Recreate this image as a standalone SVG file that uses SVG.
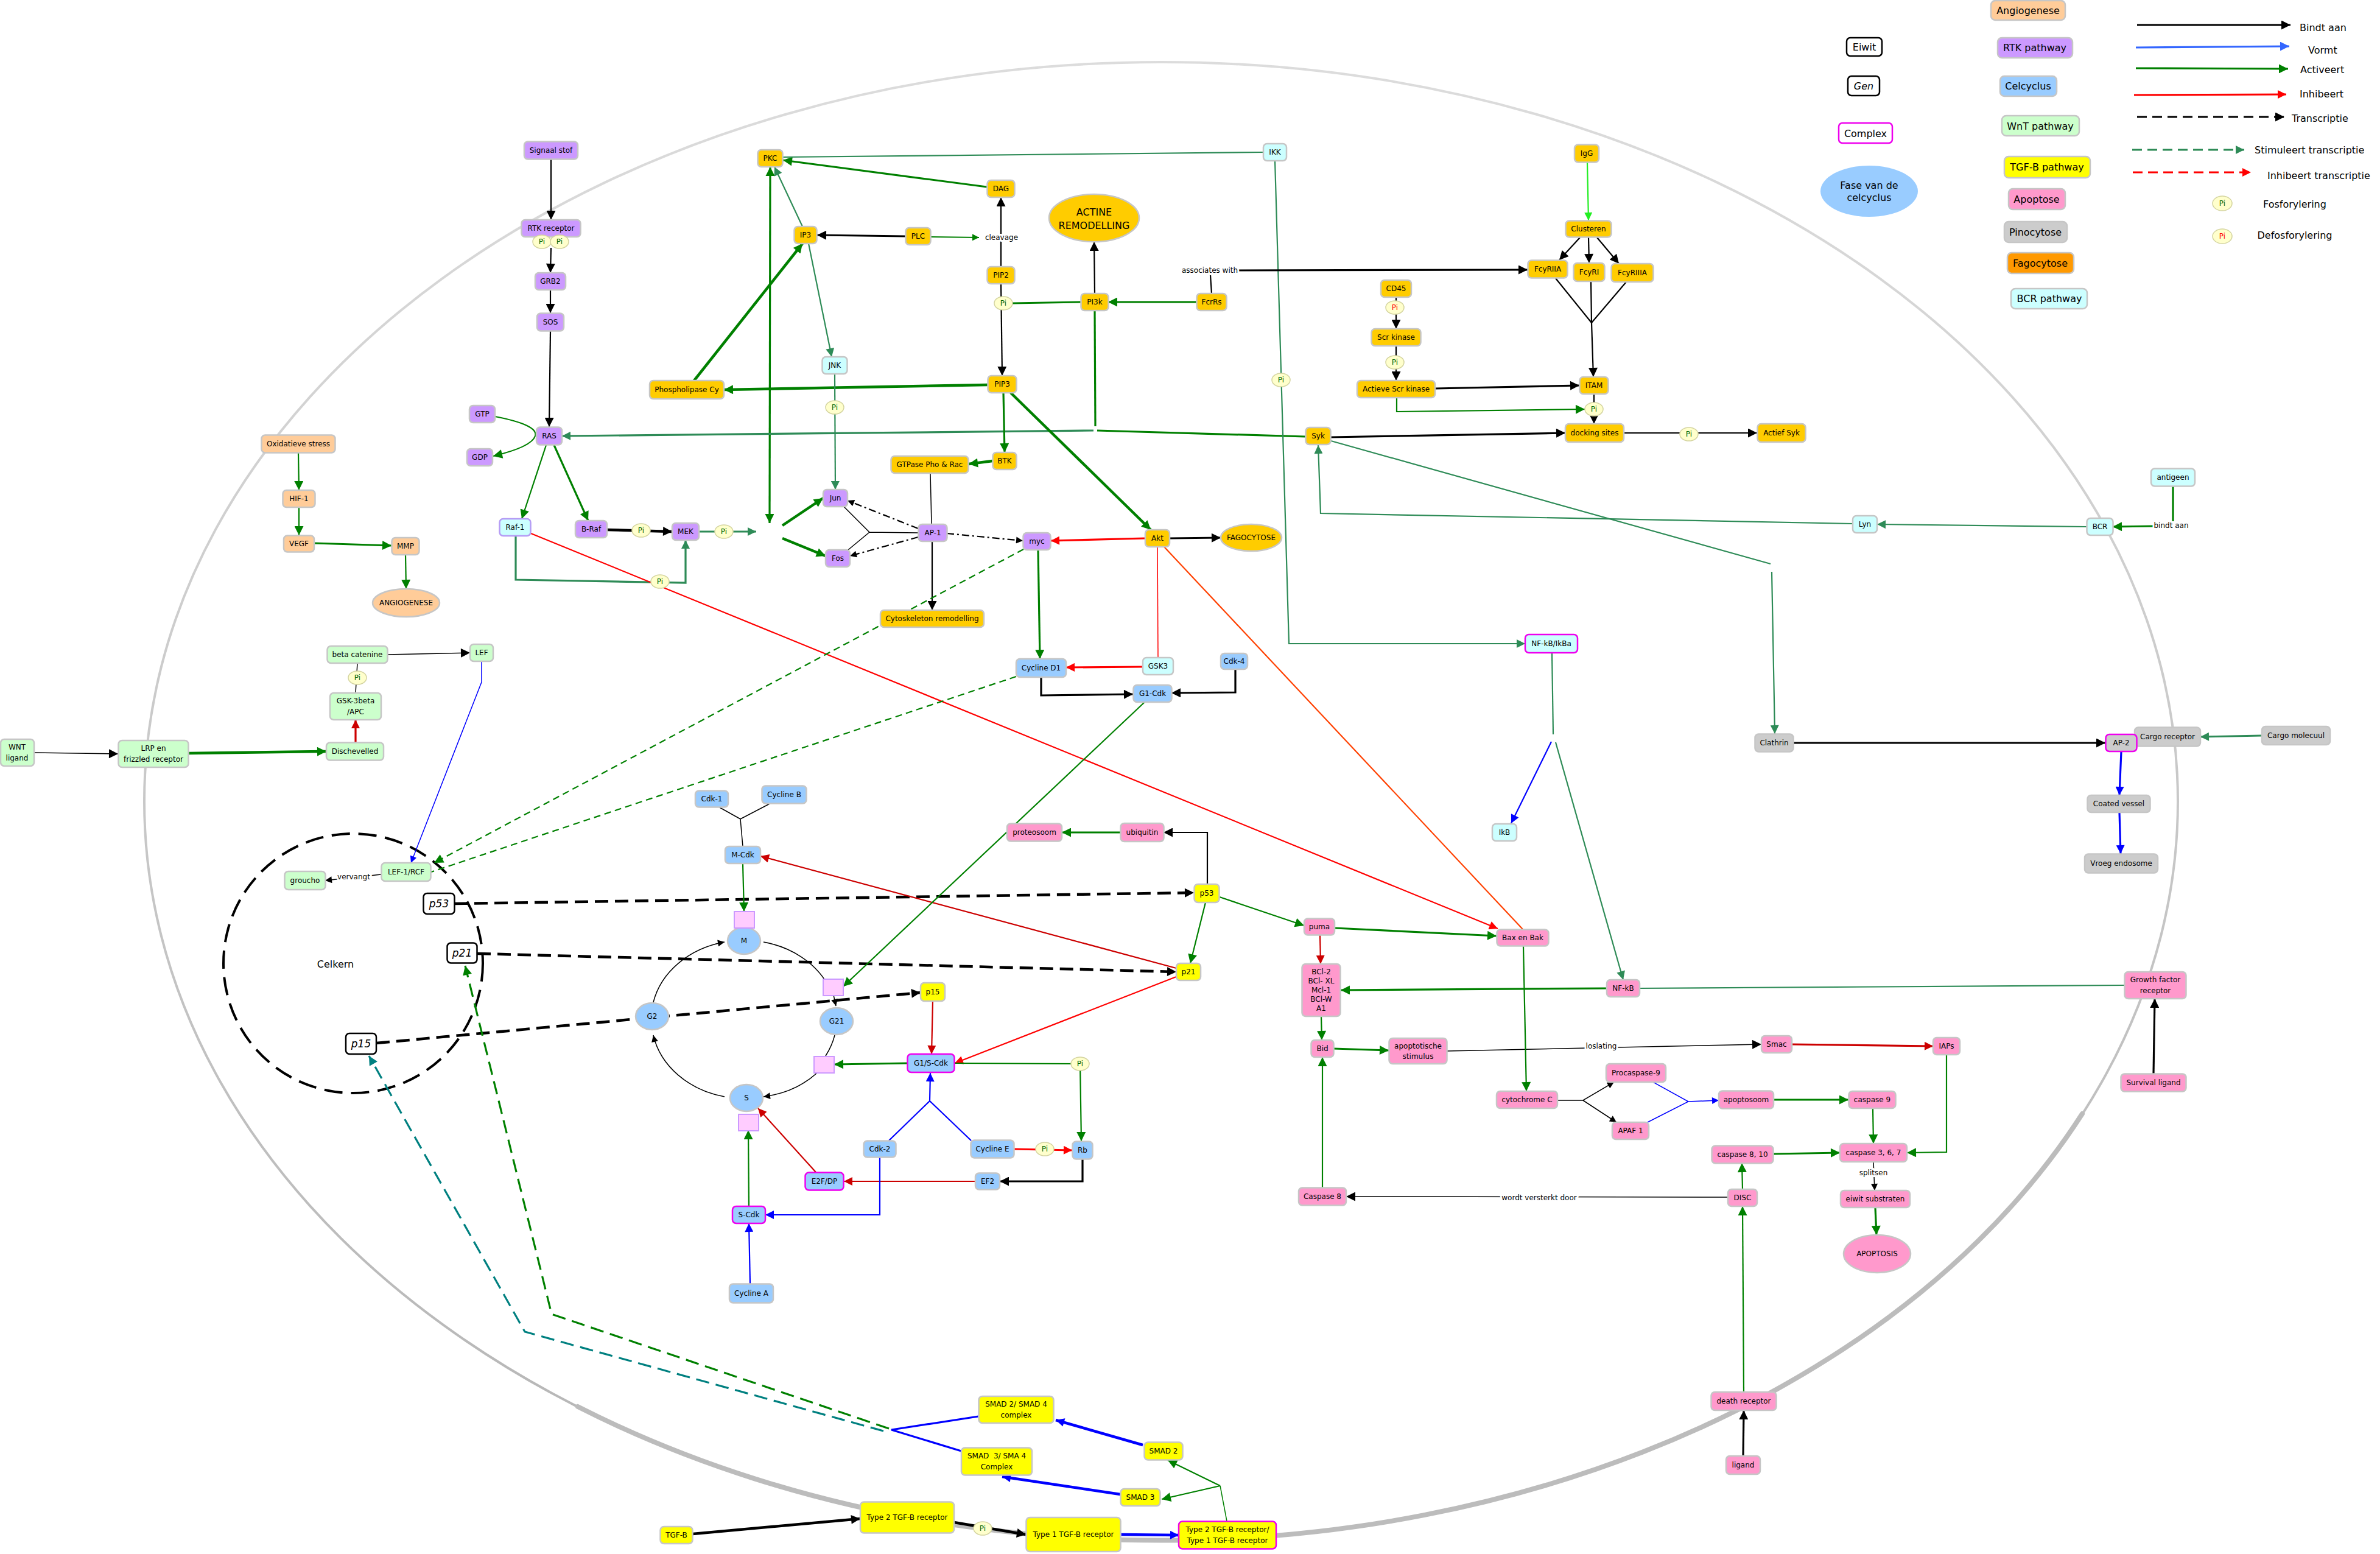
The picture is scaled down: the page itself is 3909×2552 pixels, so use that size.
<svg xmlns="http://www.w3.org/2000/svg" width="3909" height="2552" viewBox="0 0 3909 2552">
<style>
text{font-family:"DejaVu Sans",Verdana,sans-serif;font-size:12px;text-anchor:middle;dominant-baseline:central;fill:#000}
.n rect,.n ellipse{stroke:#c6c6c6;stroke-width:2.5}
.rtk rect{fill:#cc99ff}
.bcr rect{fill:#ccffff}
.fag rect,.fag ellipse{fill:#ffcc00}
.ang rect,.ang ellipse{fill:#ffcc99}
.wnt rect{fill:#ccffcc}
.cc rect,.cc ellipse{fill:#99ccff}
.tgf rect{fill:#ffff00}
.apo rect,.apo ellipse{fill:#ff99cc}
.pin rect{fill:#cccccc}
.gen rect{fill:#fff;stroke:#000;stroke-width:2.5}
.gen text{font-style:italic;font-size:17px}
.cx rect{stroke:#ee00ee;stroke-width:2.5}
.sq rect{fill:#ffccff;stroke:#cc99ff;stroke-width:2}
.pi ellipse{fill:#ffffcc;stroke:#d4d4a0;stroke-width:1.5}
.pi text{fill:#006600;font-size:12px}
.pr text{fill:#ff0000}
.lbl{stroke:#fff;stroke-width:6;paint-order:stroke;stroke-linejoin:round}
.big text{font-size:16px}
.lg{font-size:16px}
.ls{font-size:16px;text-anchor:start}
#connectors path,#legend path,#membrane path{fill:none}
.k{stroke:#000}.g{stroke:#008000}.t{stroke:#2e8b57}.r{stroke:#ff0000}.dr{stroke:#cc0000}.b{stroke:#0000ff}.l{stroke:#22ee22}.o{stroke:#ff4000}.tl{stroke:#008080}.bl{stroke:#3366ff}
.w1{stroke-width:1.5}.w2{stroke-width:2.2}.w3{stroke-width:3.2}.w4{stroke-width:4.5}
.dsh{stroke-dasharray:22,11}.dsg{stroke-dasharray:11,7}.dd{stroke-dasharray:12,5,3,5}
</style>
<defs>
<linearGradient id="mem" x1="0" y1="100" x2="0" y2="2530" gradientUnits="userSpaceOnUse"><stop offset="0" stop-color="#dcdcdc"/><stop offset="1" stop-color="#b4b4b4"/></linearGradient>
<marker id="k" viewBox="0 0 10 10" refX="10" refY="5" markerWidth="17" markerHeight="15" markerUnits="userSpaceOnUse" orient="auto-start-reverse"><path d="M0,0L10,5L0,10z" fill="#000"/></marker>
<marker id="g" viewBox="0 0 10 10" refX="10" refY="5" markerWidth="17" markerHeight="15" markerUnits="userSpaceOnUse" orient="auto-start-reverse"><path d="M0,0L10,5L0,10z" fill="#008000"/></marker>
<marker id="t" viewBox="0 0 10 10" refX="10" refY="5" markerWidth="16" markerHeight="14" markerUnits="userSpaceOnUse" orient="auto-start-reverse"><path d="M0,0L10,5L0,10z" fill="#2e8b57"/></marker>
<marker id="r" viewBox="0 0 10 10" refX="10" refY="5" markerWidth="16" markerHeight="14" markerUnits="userSpaceOnUse" orient="auto-start-reverse"><path d="M0,0L10,5L0,10z" fill="#ff0000"/></marker>
<marker id="dr" viewBox="0 0 10 10" refX="10" refY="5" markerWidth="16" markerHeight="14" markerUnits="userSpaceOnUse" orient="auto-start-reverse"><path d="M0,0L10,5L0,10z" fill="#cc0000"/></marker>
<marker id="b" viewBox="0 0 10 10" refX="10" refY="5" markerWidth="16" markerHeight="14" markerUnits="userSpaceOnUse" orient="auto-start-reverse"><path d="M0,0L10,5L0,10z" fill="#0000ff"/></marker>
<marker id="l" viewBox="0 0 10 10" refX="10" refY="5" markerWidth="15" markerHeight="13" markerUnits="userSpaceOnUse" orient="auto-start-reverse"><path d="M0,0L10,5L0,10z" fill="#22ee22"/></marker>
<marker id="tl" viewBox="0 0 10 10" refX="10" refY="5" markerWidth="17" markerHeight="15" markerUnits="userSpaceOnUse" orient="auto-start-reverse"><path d="M0,0L10,5L0,10z" fill="#008080"/></marker>
<marker id="bl" viewBox="0 0 10 10" refX="10" refY="5" markerWidth="17" markerHeight="15" markerUnits="userSpaceOnUse" orient="auto-start-reverse"><path d="M0,0L10,5L0,10z" fill="#3366ff"/></marker>
<marker id="ks" viewBox="0 0 10 10" refX="10" refY="5" markerWidth="13" markerHeight="11" markerUnits="userSpaceOnUse" orient="auto-start-reverse"><path d="M0,0L10,5L0,10z" fill="#000"/></marker>
<marker id="gs" viewBox="0 0 10 10" refX="10" refY="5" markerWidth="13" markerHeight="11" markerUnits="userSpaceOnUse" orient="auto-start-reverse"><path d="M0,0L10,5L0,10z" fill="#008000"/></marker>
<marker id="bs" viewBox="0 0 10 10" refX="10" refY="5" markerWidth="13" markerHeight="11" markerUnits="userSpaceOnUse" orient="auto-start-reverse"><path d="M0,0L10,5L0,10z" fill="#0000ff"/></marker>
</defs>
<rect width="3909" height="2552" fill="#fff"/>

<g id="membrane"><ellipse cx="1907" cy="1316" rx="1670" ry="1214" fill="none" stroke="url(#mem)" stroke-width="4"/><path d="M3420,1829A1670,1214 0 0 1 949,2310" stroke="#bcbcbc" stroke-width="8" stroke-linecap="round"/></g>
<g id="celkern"><ellipse cx="580" cy="1582" rx="213" ry="213" fill="none" stroke="#000" stroke-width="4" stroke-dasharray="30,14"/><text x="551" y="1583" style="font-size:16px">Celkern</text></g>

<g id="connectors">
<path class="g w2" d="M490,744L491,805" marker-end="url(#g)"/>
<path class="g w2" d="M491,833L491,879" marker-end="url(#g)"/>
<path class="g w3" d="M516,892L643,896" marker-end="url(#g)"/>
<path class="g w2" d="M666,911L667,967" marker-end="url(#g)"/>
<path class="k w2" d="M905,262L905,361" marker-end="url(#k)"/>
<path class="k w2" d="M905,407L904,448" marker-end="url(#k)"/>
<path class="k w2" d="M904,476L904,514" marker-end="url(#k)"/>
<path class="k w2" d="M904,544L902,701" marker-end="url(#k)"/>
<path class="g w2" d="M813,684Q885,698 879,716Q873,734 810,749" marker-end="url(#g)"/>
<path class="g w2" d="M897,731L857,852" marker-end="url(#g)"/>
<path class="g w3" d="M910,731L966,855" marker-end="url(#g)"/>
<path class="k w4" d="M997,870L1104,873" marker-end="url(#k)"/>
<path class="t w3" d="M1148,873L1242,873" marker-end="url(#t)"/>
<path class="t w3" d="M847,880L847,952L1126,957L1126,887" marker-end="url(#t)"/>
<path class="g w4" d="M1285,863L1352,818" marker-end="url(#g)"/>
<path class="g w4" d="M1285,884L1356,913" marker-end="url(#g)"/>
<path class="g w3" d="M1265,274L1264,859" marker-start="url(#g)" marker-end="url(#g)"/>
<path class="t w2" d="M1318,372L1272,274" marker-end="url(#t)"/>
<path class="g w3" d="M1621,307L1286,263" marker-end="url(#g)"/>
<path class="t w2" d="M2075,250L1286,258"/>
<path class="k w3" d="M1487,388L1342,386" marker-end="url(#k)"/>
<path class="g w2" d="M1528,389L1608,390" marker-end="url(#gs)"/>
<path class="k w2" d="M1644,438L1644,324" marker-end="url(#k)"/>
<path class="k w2" d="M1644,466L1646,617" marker-end="url(#k)"/>
<path class="g w3" d="M1775,496L1663,498"/>
<path class="g w3" d="M1965,496L1820,496" marker-end="url(#g)"/>
<path class="k w2" d="M1798,482L1797,397" marker-end="url(#k)"/>
<path class="g w3" d="M1798,510L1799,700"/>
<path class="g w3" d="M2144,717L1802,707"/>
<path class="t w3" d="M1796,707L923,716" marker-end="url(#t)"/>
<path class="g w4" d="M1622,632L1189,640" marker-end="url(#g)"/>
<path class="g w4" d="M1140,625L1318,400" marker-end="url(#g)"/>
<path class="t w2" d="M1328,400L1366,586" marker-end="url(#t)"/>
<path class="t w2" d="M1371,614L1372,804" marker-end="url(#t)"/>
<path class="g w3" d="M1648,645L1650,743" marker-end="url(#g)"/>
<path class="g w4" d="M1630,757L1591,762" marker-end="url(#g)"/>
<path class="g w4" d="M1660,645L1890,870" marker-end="url(#g)"/>
<path class="k w1" d="M1528,777L1530,861"/>
<path class="k w2" d="M1531,889L1531,1002" marker-end="url(#k)"/>
<path class="k w2 dd" d="M1508,868L1392,822" marker-end="url(#ks)"/>
<path class="k w2 dd" d="M1508,882L1396,913" marker-end="url(#ks)"/>
<path class="k w2 dd" d="M1555,876L1680,888" marker-end="url(#ks)"/>
<path class="k w1" d="M1386,832L1428,874L1508,875M1393,903L1428,874"/>
<path class="r w3" d="M1881,884L1726,888" marker-end="url(#r)"/>
<path class="k w3" d="M1921,884L2005,883" marker-end="url(#k)"/>
<path class="g w3" d="M1705,903L1708,1082" marker-end="url(#g)"/>
<path class="r w1" d="M1901,898L1902,1080"/>
<path class="r w3" d="M1877,1095L1751,1096" marker-end="url(#r)"/>
<path class="k w3" d="M1710,1112L1710,1142L1861,1140" marker-end="url(#k)"/>
<path class="k w3" d="M2029,1099L2029,1137L1924,1138" marker-end="url(#k)"/>
<path class="o w2" d="M1912,898L2501,1526"/>
<path class="r w2" d="M872,876L2460,1525" marker-end="url(#r)"/>
<path class="t w2" d="M2094,264L2117,1057L2505,1057" marker-end="url(#t)"/>
<path class="t w2" d="M2549,1072L2551,1206"/>
<path class="b w2" d="M2548,1218L2482,1352" marker-end="url(#b)"/>
<path class="t w2" d="M2555,1219L2666,1609" marker-end="url(#t)"/>
<path class="g w3" d="M2639,1623L2202,1626" marker-end="url(#g)"/>
<path class="t w2" d="M3489,1618L2693,1623"/>
<path class="k w3" d="M3537,1763L3539,1640" marker-end="url(#k)"/>
<path class="t w2" d="M3043,860L2169,843L2165,731" marker-end="url(#t)"/>
<path class="t w2" d="M3427,865L3083,861" marker-end="url(#t)"/>
<path class="g w3" d="M3569,799L3569,856"/>
<path class="g w3" d="M3537,864L3470,865" marker-end="url(#g)"/>
<path class="t w2" d="M2186,724L2908,926M2910,939L2915,1205" marker-end="url(#t)"/>
<path class="k w3" d="M2946,1220L3458,1220" marker-end="url(#k)"/>
<path class="t w3" d="M3715,1208L3614,1210" marker-end="url(#t)"/>
<path class="b w3" d="M3484,1234L3481,1306" marker-end="url(#b)"/>
<path class="b w3" d="M3481,1334L3483,1402" marker-end="url(#b)"/>
<path class="l w2" d="M2607,267L2609,362" marker-end="url(#l)"/>
<path class="k w2" d="M2595,390L2561,427" marker-end="url(#k)"/>
<path class="k w2" d="M2609,390L2610,432" marker-end="url(#k)"/>
<path class="k w2" d="M2623,390L2659,433" marker-end="url(#k)"/>
<path class="k w2" d="M2555,457L2614,530M2613,462L2614,530M2671,463L2614,530"/>
<path class="k w2" d="M2614,530L2617,619" marker-end="url(#k)"/>
<path class="k w2" d="M1990,482L1988,452"/>
<path class="k w3" d="M2033,444L2509,443" marker-end="url(#k)"/>
<path class="k w2" d="M2293,488L2293,540" marker-end="url(#k)"/>
<path class="k w2" d="M2293,568L2293,625" marker-end="url(#k)"/>
<path class="k w3" d="M2357,638L2594,633" marker-end="url(#k)"/>
<path class="g w2" d="M2294,653L2294,676L2603,672" marker-end="url(#g)"/>
<path class="k w2" d="M2618,647L2618,696" marker-end="url(#k)"/>
<path class="k w3" d="M2186,718L2571,711" marker-end="url(#k)"/>
<path class="k w2" d="M2667,711L2886,711" marker-end="url(#k)"/>
<path class="k w1" d="M56,1236L194,1238" marker-end="url(#k)"/>
<path class="g w4" d="M309,1237L536,1234" marker-end="url(#g)"/>
<path class="dr w3" d="M584,1219L584,1182" marker-end="url(#dr)"/>
<path class="k w1" d="M584,1138L587,1089"/>
<path class="k w1" d="M636,1075L772,1072" marker-end="url(#k)"/>
<path class="b w1" d="M791,1086L791,1120L675,1417" marker-end="url(#bs)"/>
<path class="k w1" d="M626,1436L534,1446" marker-end="url(#ks)"/>
<path class="g w2 dsg" d="M1681,902L713,1417" marker-end="url(#g)"/>
<path class="g w2 dsg" d="M1669,1111L708,1432"/>
<path class="k w4 dsh" d="M746,1484L1961,1466" marker-end="url(#k)"/>
<path class="k w4 dsh" d="M784,1566L1932,1596" marker-end="url(#k)"/>
<path class="k w4 dsh" d="M618,1713L1512,1630" marker-end="url(#k)"/>
<path class="g w3 dsh" d="M1460,2346L906,2158L764,1586" marker-end="url(#g)"/>
<path class="tl w3 dsh" d="M1451,2350L862,2187L606,1734" marker-end="url(#tl)"/>
<path class="k w1" d="M1182,1326L1216,1345M1264,1320L1216,1345L1220,1390"/>
<path class="g w2" d="M1220,1418L1222,1497" marker-end="url(#g)"/>
<path class="k w1" d="M1254,1547A152,129 0 0 1 1359,1616"/>
<path class="k w1" d="M1369,1634L1373,1652" marker-end="url(#ks)"/>
<path class="k w1" d="M1371,1700A152,129 0 0 1 1356,1734"/>
<path class="k w1" d="M1342,1762A152,129 0 0 1 1254,1801" marker-end="url(#ks)"/>
<path class="k w1" d="M1190,1801A152,129 0 0 1 1073,1700" marker-end="url(#ks)"/>
<path class="k w1" d="M1073,1646A152,129 0 0 1 1190,1547" marker-end="url(#ks)"/>
<path class="g w3" d="M1490,1746L1370,1748" marker-end="url(#g)"/>
<path class="dr w2" d="M1532,1644L1530,1731" marker-end="url(#dr)"/>
<path class="r w2" d="M1932,1604L1568,1746" marker-end="url(#r)"/>
<path class="dr w2" d="M1932,1590L1249,1406" marker-end="url(#dr)"/>
<path class="g w2" d="M1980,1482L1955,1582" marker-end="url(#g)"/>
<path class="k w2" d="M1983,1452L1983,1367L1911,1367" marker-end="url(#k)"/>
<path class="g w3" d="M1840,1367L1744,1367" marker-end="url(#g)"/>
<path class="g w2" d="M2003,1473L2142,1520" marker-end="url(#g)"/>
<path class="g w2" d="M1568,1746L1774,1747L1776,1874" marker-end="url(#g)"/>
<path class="r w3" d="M1666,1887L1761,1889" marker-end="url(#r)"/>
<path class="k w3" d="M1778,1904L1778,1940L1642,1940" marker-end="url(#k)"/>
<path class="dr w2" d="M1602,1940L1386,1940" marker-end="url(#dr)"/>
<path class="dr w2" d="M1340,1925L1245,1820" marker-end="url(#dr)"/>
<path class="b w2" d="M1445,1900L1445,1995L1257,1995" marker-end="url(#b)"/>
<path class="b w2" d="M1460,1873L1527,1808L1595,1873M1527,1808L1528,1762" marker-end="url(#b)"/>
<path class="b w2" d="M1232,2108L1230,2009" marker-end="url(#b)"/>
<path class="g w2" d="M1230,1981L1229,1856" marker-end="url(#g)"/>
<path class="g w2" d="M1880,1153L1385,1620" marker-end="url(#g)"/>
<path class="g w3" d="M2192,1524L2458,1537" marker-end="url(#g)"/>
<path class="dr w2" d="M2168,1536L2169,1583" marker-end="url(#dr)"/>
<path class="g w2" d="M2170,1669L2171,1708" marker-end="url(#g)"/>
<path class="g w3" d="M2190,1722L2281,1725" marker-end="url(#g)"/>
<path class="k w1" d="M2377,1726L2893,1715" marker-end="url(#k)"/>
<path class="dr w3" d="M2943,1715L3175,1718" marker-end="url(#dr)"/>
<path class="g w2" d="M3197,1732L3197,1892L3132,1893" marker-end="url(#g)"/>
<path class="g w2" d="M2502,1554L2507,1792" marker-end="url(#g)"/>
<path class="k w1" d="M2558,1807L2600,1807L2651,1777" marker-end="url(#ks)"/>
<path class="k w1" d="M2600,1807L2655,1843" marker-end="url(#ks)"/>
<path class="b w1" d="M2715,1777L2773,1809L2706,1843M2773,1809L2823,1807" marker-end="url(#bs)"/>
<path class="g w3" d="M2913,1806L3036,1806" marker-end="url(#g)"/>
<path class="g w2" d="M3076,1820L3077,1878" marker-end="url(#g)"/>
<path class="g w3" d="M2912,1895L3022,1893" marker-end="url(#g)"/>
<path class="k w1" d="M3077,1908L3079,1955" marker-end="url(#ks)"/>
<path class="g w3" d="M3080,1983L3082,2028" marker-end="url(#g)"/>
<path class="g w2" d="M2862,1953L2861,1910" marker-end="url(#g)"/>
<path class="k w1" d="M2838,1966L2211,1965" marker-end="url(#k)"/>
<path class="g w2" d="M2172,1950L2172,1736" marker-end="url(#g)"/>
<path class="g w2" d="M2864,2286L2862,1981" marker-end="url(#g)"/>
<path class="k w3" d="M2863,2391L2864,2316" marker-end="url(#k)"/>
<path class="k w4" d="M1138,2519L1413,2494" marker-end="url(#k)"/>
<path class="k w4" d="M1567,2500L1685,2520" marker-end="url(#k)"/>
<path class="b w4" d="M1841,2520L1936,2521" marker-end="url(#b)"/>
<path class="g w1" d="M2015,2498L2004,2440"/>
<path class="g w2" d="M2004,2440L1918,2398" marker-end="url(#g)"/>
<path class="g w2" d="M2004,2440L1908,2462" marker-end="url(#g)"/>
<path class="b w4" d="M1877,2373L1734,2332" marker-end="url(#b)"/>
<path class="b w4" d="M1840,2454L1646,2425" marker-end="url(#b)"/>
<path class="b w3" d="M1607,2326L1464,2348L1579,2383"/>
</g>

<g id="edge-labels">
<text class="lbl" x="1645" y="390">cleavage</text>
<text class="lbl" x="1987" y="444">associates with</text>
<text class="lbl" x="3566" y="863">bindt aan</text>
<text class="lbl" x="581" y="1440">vervangt</text>
<text class="lbl" x="2630" y="1718">loslating</text>
<text class="lbl" x="3077" y="1926">splitsen</text>
<text class="lbl" x="2528" y="1967">wordt versterkt door</text>
</g>

<g id="nodes">
<g id="n-signaal" class="n rtk"><rect x="861" y="232.5" width="88" height="29" rx="6"/><text x="905" y="247">Signaal stof</text></g>
<g id="n-rtkrec" class="n rtk"><rect x="856.5" y="361" width="97" height="28" rx="6"/><text x="905" y="375">RTK receptor</text></g>
<g id="n-grb2" class="n rtk"><rect x="879" y="448" width="50" height="28" rx="6"/><text x="904" y="462">GRB2</text></g>
<g id="n-sos" class="n rtk"><rect x="882" y="514.5" width="44" height="29" rx="6"/><text x="904" y="529">SOS</text></g>
<g id="n-gtp" class="n rtk"><rect x="771" y="666" width="42" height="28" rx="6"/><text x="792" y="680">GTP</text></g>
<g id="n-gdp" class="n rtk"><rect x="767" y="737" width="42" height="28" rx="6"/><text x="788" y="751">GDP</text></g>
<g id="n-ras" class="n rtk"><rect x="881" y="701.5" width="42" height="29" rx="6"/><text x="902" y="716">RAS</text></g>
<g id="n-braf" class="n rtk"><rect x="945" y="855" width="52" height="28" rx="6"/><text x="971" y="869">B-Raf</text></g>
<g id="n-mek" class="n rtk"><rect x="1104" y="859" width="44" height="28" rx="6"/><text x="1126" y="873">MEK</text></g>
<g id="n-jun" class="n rtk"><rect x="1352" y="804" width="40" height="28" rx="6"/><text x="1372" y="818">Jun</text></g>
<g id="n-fos" class="n rtk"><rect x="1356" y="903" width="40" height="28" rx="6"/><text x="1376" y="917">Fos</text></g>
<g id="n-ap1" class="n rtk"><rect x="1508.5" y="861" width="47" height="28" rx="6"/><text x="1532" y="875">AP-1</text></g>
<g id="n-myc" class="n rtk"><rect x="1680.5" y="875" width="45" height="28" rx="6"/><text x="1703" y="889">myc</text></g>

<g id="n-raf1" class="n bcr"><rect x="820.5" y="852" width="51" height="28" rx="6" style="stroke:#b59cf5"/><text x="846" y="866">Raf-1</text></g>
<g id="n-jnk" class="n bcr"><rect x="1350.5" y="586" width="41" height="28" rx="6"/><text x="1371" y="600">JNK</text></g>
<g id="n-ikk" class="n bcr"><rect x="2075" y="236" width="38" height="28" rx="6"/><text x="2094" y="250">IKK</text></g>
<g id="n-gsk3" class="n bcr"><rect x="1877" y="1080" width="50" height="28" rx="6"/><text x="1902" y="1094">GSK3</text></g>
<g id="n-nfkbikba" class="n bcr cx"><rect x="2505" y="1042" width="86" height="30" rx="6"/><text x="2548" y="1057">NF-kB/IkBa</text></g>
<g id="n-ikb" class="n bcr"><rect x="2451" y="1353" width="40" height="28" rx="6"/><text x="2471" y="1367">IkB</text></g>
<g id="n-lyn" class="n bcr"><rect x="3043" y="847" width="40" height="28" rx="6"/><text x="3063" y="861">Lyn</text></g>
<g id="n-bcr" class="n bcr"><rect x="3427.5" y="851" width="43" height="28" rx="6"/><text x="3449" y="865">BCR</text></g>
<g id="n-antigeen" class="n bcr"><rect x="3533" y="769.5" width="72" height="29" rx="6"/><text x="3569" y="784">antigeen</text></g>

<g id="n-pkc" class="n fag"><rect x="1244.5" y="246" width="41" height="28" rx="6"/><text x="1265" y="260">PKC</text></g>
<g id="n-dag" class="n fag"><rect x="1621.5" y="296" width="45" height="28" rx="6"/><text x="1644" y="310">DAG</text></g>
<g id="n-ip3" class="n fag"><rect x="1304.5" y="372" width="37" height="28" rx="6"/><text x="1323" y="386">IP3</text></g>
<g id="n-plc" class="n fag"><rect x="1487.5" y="374" width="41" height="28" rx="6"/><text x="1508" y="388">PLC</text></g>
<g id="n-pip2" class="n fag"><rect x="1621.5" y="438" width="45" height="28" rx="6"/><text x="1644" y="452">PIP2</text></g>
<g id="n-pi3k" class="n fag"><rect x="1775.5" y="482" width="45" height="28" rx="6"/><text x="1798" y="496">PI3k</text></g>
<g id="n-fcrrs" class="n fag"><rect x="1965.5" y="482" width="49" height="28" rx="6"/><text x="1990" y="496">FcrRs</text></g>
<g id="n-pip3" class="n fag"><rect x="1622.5" y="617" width="47" height="28" rx="6"/><text x="1646" y="631">PIP3</text></g>
<g id="n-plcy" class="n fag"><rect x="1067" y="625" width="122" height="30" rx="6"/><text x="1128" y="640">Phospholipase Cy</text></g>
<g id="n-btk" class="n fag"><rect x="1630.5" y="743" width="39" height="28" rx="6"/><text x="1650" y="757">BTK</text></g>
<g id="n-gtpase" class="n fag"><rect x="1463.5" y="749" width="127" height="28" rx="6"/><text x="1527" y="763">GTPase Pho &amp; Rac</text></g>
<g id="n-akt" class="n fag"><rect x="1881" y="870" width="40" height="28" rx="6"/><text x="1901" y="884">Akt</text></g>
<g id="n-cytoskel" class="n fag"><rect x="1446" y="1002" width="170" height="28" rx="6"/><text x="1531" y="1016">Cytoskeleton remodelling</text></g>
<g id="n-syk" class="n fag"><rect x="2144.5" y="702" width="41" height="28" rx="6"/><text x="2165" y="716">Syk</text></g>
<g id="n-igg" class="n fag"><rect x="2586" y="237.5" width="40" height="29" rx="6"/><text x="2606" y="252">IgG</text></g>
<g id="n-clusteren" class="n fag"><rect x="2571.5" y="362.5" width="75" height="27" rx="6"/><text x="2609" y="376">Clusteren</text></g>
<g id="n-fcyriia" class="n fag"><rect x="2509.5" y="427.5" width="65" height="29" rx="6"/><text x="2542" y="442">FcyRIIA</text></g>
<g id="n-fcyri" class="n fag"><rect x="2584.5" y="432" width="51" height="30" rx="6"/><text x="2610" y="447">FcyRI</text></g>
<g id="n-fcyriiia" class="n fag"><rect x="2646.5" y="433" width="69" height="30" rx="6"/><text x="2681" y="448">FcyRIIIA</text></g>
<g id="n-cd45" class="n fag"><rect x="2268" y="460" width="50" height="28" rx="6"/><text x="2293" y="474">CD45</text></g>
<g id="n-scr" class="n fag"><rect x="2252.5" y="540" width="81" height="28" rx="6"/><text x="2293" y="554">Scr kinase</text></g>
<g id="n-actscr" class="n fag"><rect x="2229" y="625" width="128" height="28" rx="6"/><text x="2293" y="639">Actieve Scr kinase</text></g>
<g id="n-itam" class="n fag"><rect x="2594.5" y="619" width="47" height="28" rx="6"/><text x="2618" y="633">ITAM</text></g>
<g id="n-docking" class="n fag"><rect x="2571" y="696" width="96" height="30" rx="6"/><text x="2619" y="711">docking sites</text></g>
<g id="n-actsyk" class="n fag"><rect x="2886.5" y="696" width="79" height="30" rx="6"/><text x="2926" y="711">Actief Syk</text></g>
<g id="n-actine" class="n fag big"><ellipse cx="1797" cy="358" rx="74" ry="39"/><text x="1797" y="348">ACTINE</text><text x="1797" y="370">REMODELLING</text></g>
<g id="n-fagocytose" class="n fag"><ellipse cx="2055" cy="883" rx="50" ry="22"/><text x="2055" y="883">FAGOCYTOSE</text></g>

<g id="n-oxstress" class="n ang"><rect x="429.5" y="714.5" width="121" height="29" rx="6"/><text x="490" y="729">Oxidatieve stress</text></g>
<g id="n-hif1" class="n ang"><rect x="464.5" y="805" width="53" height="28" rx="6"/><text x="491" y="819">HIF-1</text></g>
<g id="n-vegf" class="n ang"><rect x="466" y="879.5" width="50" height="27" rx="6"/><text x="491" y="893">VEGF</text></g>
<g id="n-mmp" class="n ang"><rect x="643.5" y="883" width="45" height="28" rx="6"/><text x="666" y="897">MMP</text></g>
<g id="n-angiogenese" class="n ang"><ellipse cx="667" cy="990" rx="55" ry="23"/><text x="667" y="990">ANGIOGENESE</text></g>

<g id="n-wnt" class="n wnt"><rect x="1" y="1214" width="55" height="44" rx="6"/><text x="28" y="1227">WNT</text><text x="28" y="1245">ligand</text></g>
<g id="n-lrp" class="n wnt"><rect x="194.5" y="1216" width="115" height="44" rx="6"/><text x="252" y="1229">LRP en</text><text x="252" y="1247">frizzled receptor</text></g>
<g id="n-disch" class="n wnt"><rect x="536" y="1219.5" width="94" height="29" rx="6"/><text x="583" y="1234">Dischevelled</text></g>
<g id="n-gsk3b" class="n wnt"><rect x="542" y="1138" width="84" height="44" rx="6"/><text x="584" y="1151">GSK-3beta</text><text x="584" y="1169">/APC</text></g>
<g id="n-betacat" class="n wnt"><rect x="537.5" y="1061" width="99" height="28" rx="6"/><text x="587" y="1075">beta catenine</text></g>
<g id="n-lef" class="n wnt"><rect x="772" y="1058" width="38" height="28" rx="6"/><text x="791" y="1072">LEF</text></g>
<g id="n-lef1" class="n wnt"><rect x="626.5" y="1417" width="81" height="30" rx="6"/><text x="667" y="1432">LEF-1/RCF</text></g>
<g id="n-groucho" class="n wnt"><rect x="467.5" y="1431" width="67" height="30" rx="6"/><text x="501" y="1446">groucho</text></g>

<g id="g-p53" class="gen"><rect x="695.5" y="1467" width="51" height="34" rx="6"/><text x="721" y="1484">p53</text></g>
<g id="g-p21" class="gen"><rect x="734.5" y="1548.5" width="49" height="33" rx="6"/><text x="759" y="1565">p21</text></g>
<g id="g-p15" class="gen"><rect x="568" y="1697" width="50" height="34" rx="6"/><text x="593" y="1714">p15</text></g>

<g id="n-cdk1" class="n cc"><rect x="1142" y="1298.5" width="54" height="27" rx="6"/><text x="1169" y="1312">Cdk-1</text></g>
<g id="n-cyclB" class="n cc"><rect x="1251.5" y="1290.5" width="73" height="29" rx="6"/><text x="1288" y="1305">Cycline B</text></g>
<g id="n-mcdk" class="n cc"><rect x="1191" y="1390" width="58" height="28" rx="6"/><text x="1220" y="1404">M-Cdk</text></g>
<g id="n-cyclD1" class="n cc"><rect x="1669" y="1082" width="82" height="30" rx="6"/><text x="1710" y="1097">Cycline D1</text></g>
<g id="n-g1cdk" class="n cc"><rect x="1861.5" y="1125" width="63" height="28" rx="6"/><text x="1893" y="1139">G1-Cdk</text></g>
<g id="n-cdk4" class="n cc"><rect x="2005" y="1073" width="44" height="26" rx="6"/><text x="2027" y="1086">Cdk-4</text></g>
<g id="n-g1scdk" class="n cc cx"><rect x="1490.5" y="1731" width="77" height="30" rx="6"/><text x="1529" y="1746">G1/S-Cdk</text></g>
<g id="n-rb" class="n cc"><rect x="1761.5" y="1874.5" width="33" height="29" rx="6"/><text x="1778" y="1889">Rb</text></g>
<g id="n-cyclE" class="n cc"><rect x="1594.5" y="1872.5" width="71" height="29" rx="6"/><text x="1630" y="1887">Cycline E</text></g>
<g id="n-cdk2" class="n cc"><rect x="1418.5" y="1873.5" width="53" height="27" rx="6"/><text x="1445" y="1887">Cdk-2</text></g>
<g id="n-ef2" class="n cc"><rect x="1602" y="1926.5" width="40" height="27" rx="6"/><text x="1622" y="1940">EF2</text></g>
<g id="n-e2f" class="n cc cx"><rect x="1322.5" y="1925.5" width="63" height="29" rx="6"/><text x="1354" y="1940">E2F/DP</text></g>
<g id="n-scdk" class="n cc cx"><rect x="1203" y="1981" width="54" height="28" rx="6"/><text x="1230" y="1995">S-Cdk</text></g>
<g id="n-cyclA" class="n cc"><rect x="1198" y="2108.5" width="72" height="31" rx="6"/><text x="1234" y="2124">Cycline A</text></g>
<g id="n-M" class="n cc"><ellipse cx="1222" cy="1545" rx="27" ry="22"/><text x="1222" y="1545">M</text></g>
<g id="n-G21" class="n cc"><ellipse cx="1374" cy="1677" rx="27" ry="22"/><text x="1374" y="1677">G21</text></g>
<g id="n-G2" class="n cc"><ellipse cx="1071" cy="1669" rx="27" ry="22"/><text x="1071" y="1669">G2</text></g>
<g id="n-S" class="n cc"><ellipse cx="1226" cy="1803" rx="27" ry="22"/><text x="1226" y="1803">S</text></g>
<g id="sq1" class="sq"><rect x="1206" y="1497" width="33" height="27"/></g>
<g id="sq2" class="sq"><rect x="1352" y="1608" width="33" height="27"/></g>
<g id="sq3" class="sq"><rect x="1337" y="1735" width="33" height="27"/></g>
<g id="sq4" class="sq"><rect x="1213" y="1830" width="33" height="27"/></g>

<g id="n-p53" class="n tgf"><rect x="1961.5" y="1452" width="41" height="30" rx="6"/><text x="1982" y="1467">p53</text></g>
<g id="n-p21" class="n tgf"><rect x="1932" y="1582" width="40" height="28" rx="6"/><text x="1952" y="1596">p21</text></g>
<g id="n-p15" class="n tgf"><rect x="1512" y="1614" width="40" height="30" rx="6"/><text x="1532" y="1629">p15</text></g>
<g id="n-tgfb" class="n tgf"><rect x="1084.5" y="2507" width="53" height="28" rx="6"/><text x="1111" y="2521">TGF-B</text></g>
<g id="n-t2r" class="n tgf"><rect x="1413" y="2466.5" width="154" height="51" rx="6"/><text x="1490" y="2492">Type 2 TGF-B receptor</text></g>
<g id="n-t1r" class="n tgf"><rect x="1685.5" y="2492" width="155" height="56" rx="6"/><text x="1763" y="2520">Type 1 TGF-B receptor</text></g>
<g id="n-t21" class="n tgf cx"><rect x="1936" y="2498.5" width="160" height="45" rx="6"/><text x="2016" y="2512">Type 2 TGF-B receptor/</text><text x="2016" y="2530">Type 1 TGF-B receptor</text></g>
<g id="n-smad24" class="n tgf"><rect x="1607.5" y="2293" width="123" height="44" rx="6"/><text x="1669" y="2306">SMAD 2/ SMAD 4</text><text x="1669" y="2324">complex</text></g>
<g id="n-smad34" class="n tgf"><rect x="1579" y="2377.5" width="116" height="45" rx="6"/><text x="1637" y="2391" xml:space="preserve">SMAD  3/ SMA 4</text><text x="1637" y="2409">Complex</text></g>
<g id="n-smad2" class="n tgf"><rect x="1879.5" y="2368.5" width="63" height="29" rx="6"/><text x="1911" y="2383">SMAD 2</text></g>
<g id="n-smad3" class="n tgf"><rect x="1840.5" y="2445" width="65" height="28" rx="6"/><text x="1873" y="2459">SMAD 3</text></g>

<g id="n-proteosoom" class="n apo"><rect x="1654" y="1352.5" width="90" height="29" rx="6"/><text x="1699" y="1367">proteosoom</text></g>
<g id="n-ubiquitin" class="n apo"><rect x="1840.5" y="1352" width="71" height="30" rx="6"/><text x="1876" y="1367">ubiquitin</text></g>
<g id="n-puma" class="n apo"><rect x="2142" y="1508.5" width="50" height="27" rx="6"/><text x="2167" y="1522">puma</text></g>
<g id="n-baxbak" class="n apo"><rect x="2458.5" y="1526.5" width="85" height="27" rx="6"/><text x="2501" y="1540">Bax en Bak</text></g>
<g id="n-bcl2" class="n apo"><rect x="2138.5" y="1583" width="63" height="86" rx="6"/><text x="2170" y="1596">BCl-2</text><text x="2170" y="1611">BCl- XL</text><text x="2170" y="1626">Mcl-1</text><text x="2170" y="1641">BCl-W</text><text x="2170" y="1656">A1</text></g>
<g id="n-nfkb" class="n apo"><rect x="2639" y="1609" width="54" height="28" rx="6"/><text x="2666" y="1623">NF-kB</text></g>
<g id="n-bid" class="n apo"><rect x="2153.5" y="1708" width="37" height="28" rx="6"/><text x="2172" y="1722">Bid</text></g>
<g id="n-apstim" class="n apo"><rect x="2281.5" y="1705" width="95" height="42" rx="6"/><text x="2329" y="1718">apoptotische</text><text x="2329" y="1735">stimulus</text></g>
<g id="n-smac" class="n apo"><rect x="2893" y="1701" width="50" height="28" rx="6"/><text x="2918" y="1715">Smac</text></g>
<g id="n-iaps" class="n apo"><rect x="3175" y="1704" width="44" height="28" rx="6"/><text x="3197" y="1718">IAPs</text></g>
<g id="n-procasp9" class="n apo"><rect x="2638" y="1747" width="98" height="30" rx="6"/><text x="2687" y="1762">Procaspase-9</text></g>
<g id="n-cytc" class="n apo"><rect x="2458" y="1792" width="100" height="28" rx="6"/><text x="2508" y="1806">cytochrome C</text></g>
<g id="n-apaf1" class="n apo"><rect x="2648" y="1843" width="60" height="28" rx="6"/><text x="2678" y="1857">APAF 1</text></g>
<g id="n-apoptosoom" class="n apo"><rect x="2823" y="1791.5" width="90" height="29" rx="6"/><text x="2868" y="1806">apoptosoom</text></g>
<g id="n-casp9" class="n apo"><rect x="3036.5" y="1792" width="77" height="28" rx="6"/><text x="3075" y="1806">caspase 9</text></g>
<g id="n-casp810" class="n apo"><rect x="2811.5" y="1881.5" width="101" height="29" rx="6"/><text x="2862" y="1896">caspase 8, 10</text></g>
<g id="n-casp367" class="n apo"><rect x="3022" y="1878" width="110" height="30" rx="6"/><text x="3077" y="1893">caspase 3, 6, 7</text></g>
<g id="n-eiwit" class="n apo"><rect x="3023" y="1955" width="114" height="28" rx="6"/><text x="3080" y="1969">eiwit substraten</text></g>
<g id="n-apoptosis" class="n apo"><ellipse cx="3083" cy="2059" rx="55" ry="31"/><text x="3083" y="2059">APOPTOSIS</text></g>
<g id="n-casp8" class="n apo"><rect x="2133" y="1950.5" width="78" height="29" rx="6"/><text x="2172" y="1965">Caspase 8</text></g>
<g id="n-disc" class="n apo"><rect x="2838" y="1953" width="48" height="28" rx="6"/><text x="2862" y="1967">DISC</text></g>
<g id="n-deathrec" class="n apo"><rect x="2810.5" y="2286" width="107" height="30" rx="6"/><text x="2864" y="2301">death receptor</text></g>
<g id="n-ligand" class="n apo"><rect x="2835" y="2391" width="56" height="30" rx="6"/><text x="2863" y="2406">ligand</text></g>
<g id="n-gfr" class="n apo"><rect x="3489.5" y="1596" width="101" height="44" rx="6"/><text x="3540" y="1609">Growth factor</text><text x="3540" y="1627">receptor</text></g>
<g id="n-survival" class="n apo"><rect x="3483.5" y="1763.5" width="107" height="29" rx="6"/><text x="3537" y="1778">Survival ligand</text></g>

<g id="n-clathrin" class="n pin"><rect x="2882.5" y="1205.5" width="63" height="29" rx="6"/><text x="2914" y="1220">Clathrin</text></g>
<g id="n-cargorec" class="n pin"><rect x="3506" y="1194.5" width="108" height="31" rx="6"/><text x="3560" y="1210">Cargo receptor</text></g>
<g id="n-ap2" class="n pin cx"><rect x="3458.5" y="1206" width="51" height="28" rx="6"/><text x="3484" y="1220">AP-2</text></g>
<g id="n-cargomol" class="n pin"><rect x="3715" y="1193" width="112" height="30" rx="6"/><text x="3771" y="1208">Cargo molecuul</text></g>
<g id="n-coated" class="n pin"><rect x="3428.5" y="1306" width="103" height="28" rx="6"/><text x="3480" y="1320">Coated vessel</text></g>
<g id="n-vroeg" class="n pin"><rect x="3424" y="1402.5" width="120" height="31" rx="6"/><text x="3484" y="1418">Vroeg endosome</text></g>

<g id="phospho" class="pi">
<g><ellipse cx="890" cy="397" rx="15" ry="11"/><text x="890" y="397">Pi</text></g>
<g><ellipse cx="919" cy="397" rx="15" ry="11"/><text x="919" y="397">Pi</text></g>
<g><ellipse cx="1053" cy="871" rx="15" ry="11"/><text x="1053" y="871">Pi</text></g>
<g><ellipse cx="1189" cy="873" rx="15" ry="11"/><text x="1189" y="873">Pi</text></g>
<g><ellipse cx="1084" cy="955" rx="15" ry="11"/><text x="1084" y="955">Pi</text></g>
<g><ellipse cx="1648" cy="498" rx="15" ry="11"/><text x="1648" y="498">Pi</text></g>
<g><ellipse cx="1371" cy="669" rx="15" ry="11"/><text x="1371" y="669">Pi</text></g>
<g><ellipse cx="2104" cy="624" rx="15" ry="11"/><text x="2104" y="624">Pi</text></g>
<g class="pr"><ellipse cx="2291" cy="505" rx="15" ry="11"/><text x="2291" y="505">Pi</text></g>
<g><ellipse cx="2291" cy="595" rx="15" ry="11"/><text x="2291" y="595">Pi</text></g>
<g><ellipse cx="2618" cy="672" rx="15" ry="11"/><text x="2618" y="672">Pi</text></g>
<g><ellipse cx="2774" cy="713" rx="15" ry="11"/><text x="2774" y="713">Pi</text></g>
<g><ellipse cx="587" cy="1113" rx="15" ry="11"/><text x="587" y="1113">Pi</text></g>
<g><ellipse cx="1774" cy="1747" rx="15" ry="11"/><text x="1774" y="1747">Pi</text></g>
<g><ellipse cx="1716" cy="1887" rx="15" ry="11"/><text x="1716" y="1887">Pi</text></g>
<g><ellipse cx="1614" cy="2510" rx="15" ry="11"/><text x="1614" y="2510">Pi</text></g>
</g>
</g>

<g id="legend">
<g class="n ang big"><rect x="3270" y="1" width="122" height="32" rx="7"/><text x="3331" y="17">Angiogenese</text></g>
<g class="n rtk big"><rect x="3281" y="62" width="123" height="33" rx="7"/><text x="3342" y="78">RTK pathway</text></g>
<g class="n cc big"><rect x="3285" y="125" width="93" height="33" rx="7"/><text x="3331" y="141">Celcyclus</text></g>
<g class="n wnt big"><rect x="3288" y="190" width="127" height="33" rx="7"/><text x="3351" y="207">WnT pathway</text></g>
<g class="n tgf big"><rect x="3292" y="257" width="141" height="35" rx="7"/><text x="3362" y="274">TGF-B pathway</text></g>
<g class="n apo big"><rect x="3299" y="310" width="93" height="34" rx="7"/><text x="3345" y="327">Apoptose</text></g>
<g class="n pin big"><rect x="3292" y="364" width="103" height="34" rx="7"/><text x="3343" y="381">Pinocytose</text></g>
<g class="n big"><rect x="3297" y="415" width="109" height="34" rx="7" fill="#ff9900"/><text x="3351" y="432">Fagocytose</text></g>
<g class="n bcr big"><rect x="3303" y="474" width="125" height="33" rx="7"/><text x="3366" y="490">BCR pathway</text></g>
<g class="gen"><rect x="3033" y="62" width="58" height="30" rx="6"/><text x="3062" y="77" style="font-style:normal;font-size:16px">Eiwit</text></g>
<g class="gen"><rect x="3035" y="125" width="52" height="32" rx="6"/><text x="3061" y="141" style="font-size:16px">Gen</text></g>
<g class="big"><rect x="3020" y="202" width="88" height="33" rx="6" fill="#fff" stroke="#ee00ee" stroke-width="2.5"/><text x="3064" y="219">Complex</text></g>
<g class="n cc big"><ellipse cx="3070" cy="314" rx="80" ry="42" style="stroke:none"/><text x="3070" y="304">Fase van de</text><text x="3070" y="324">celcyclus</text></g>
<path class="k w3" d="M3510,41L3762,41" marker-end="url(#k)"/>
<path class="bl w3" d="M3508,78L3760,76" marker-end="url(#bl)"/>
<path class="g w3" d="M3508,112L3758,113" marker-end="url(#g)"/>
<path class="r w3" d="M3505,156L3755,155" marker-end="url(#r)"/>
<path class="k w3" style="stroke-dasharray:16,9" d="M3510,192L3752,192" marker-end="url(#k)"/>
<path class="t w3" style="stroke-dasharray:16,9" d="M3502,246L3686,246" marker-end="url(#t)"/>
<path class="r w3" style="stroke-dasharray:16,9" d="M3503,283L3697,283" marker-end="url(#r)"/>
<text class="ls" x="3777" y="45">Bindt aan</text>
<text class="ls" x="3791" y="82">Vormt</text>
<text class="ls" x="3778" y="114">Activeert</text>
<text class="ls" x="3777" y="154">Inhibeert</text>
<text class="ls" x="3764" y="194">Transcriptie</text>
<text class="ls" x="3703" y="246">Stimuleert transcriptie</text>
<text class="ls" x="3724" y="288">Inhibeert transcriptie</text>
<text class="lg" x="3769" y="335">Fosforylering</text>
<text class="lg" x="3769" y="386">Defosforylering</text>
<g class="pi"><ellipse cx="3650" cy="334" rx="16" ry="12"/><text x="3650" y="334">Pi</text></g>
<g class="pi pr"><ellipse cx="3650" cy="388" rx="16" ry="12"/><text x="3650" y="388">Pi</text></g>
</g>
</svg>
